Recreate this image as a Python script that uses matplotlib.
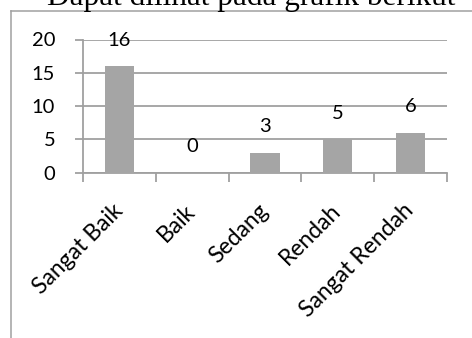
import matplotlib
matplotlib.use("Agg")
import matplotlib.pyplot as plt
from matplotlib.lines import Line2D
import numpy as np

categories = ["Sangat Baik", "Baik", "Sedang", "Rendah", "Sangat Rendah"]
values = [16, 0, 3, 5, 6]
yticks = [0, 5, 10, 15, 20]
title_text = "Dapat dilihat pada grafik berikut"

W, H, DPI = 472, 338, 100
fig = plt.figure(figsize=(W / DPI, H / DPI), dpi=DPI)
plt.rcParams['font.family'] = ['Lato', 'DejaVu Sans']

gray = "#a0a0a0"
barc = "#a5a5a5"

ax = fig.add_axes([83 / W, 1 - 172.7 / H, (447 - 83) / W, (172.7 - 39.5) / H])
x = np.arange(len(categories))
ax.bar(x, values, width=0.4, color=barc, zorder=3)
ax.set_xlim(-0.5, len(categories) - 0.5)
ax.set_ylim(0, 20)
ax.set_yticks(yticks)
ax.set_yticklabels([str(v) for v in yticks], fontsize=14.5)
ax.yaxis.grid(True, color=gray, linewidth=1.3, zorder=0)
ax.tick_params(axis='y', length=6, width=1.3, color=gray, pad=14, labelcolor='black')

ax.set_xticks(x)
ax.set_xticklabels(categories, fontsize=16.5, rotation=45, ha='right', va='center',
                   rotation_mode='anchor')
ax.tick_params(axis='x', which='major', length=0, pad=25)
ax.set_xticks(np.arange(len(categories) + 1) - 0.5, minor=True)
ax.tick_params(axis='x', which='minor', length=6.5, width=1.3, color=gray)

for s in ['top', 'right']:
    ax.spines[s].set_visible(False)
for s in ['left', 'bottom']:
    ax.spines[s].set_color(gray)
    ax.spines[s].set_linewidth(1.3)

for xi, v in zip(x, values):
    ax.annotate(str(v), (xi, v), xytext=(0, 18.7), textcoords='offset points',
                ha='center', va='center', fontsize=14.5)

# outer chart border
fig.add_artist(Line2D([10.5 / W, 10.5 / W], [0, 1 - 10.5 / H], transform=fig.transFigure,
                      color=gray, linewidth=1.1))
fig.add_artist(Line2D([10.5 / W, 1], [1 - 10.5 / H, 1 - 10.5 / H], transform=fig.transFigure,
                      color=gray, linewidth=1.1))

fig.text(47 / W, 1 - 4.5 / H, title_text, family=['Liberation Serif', 'DejaVu Serif'],
         fontsize=22.5, va='baseline', ha='left')

fig.savefig("out.png", dpi=DPI)
